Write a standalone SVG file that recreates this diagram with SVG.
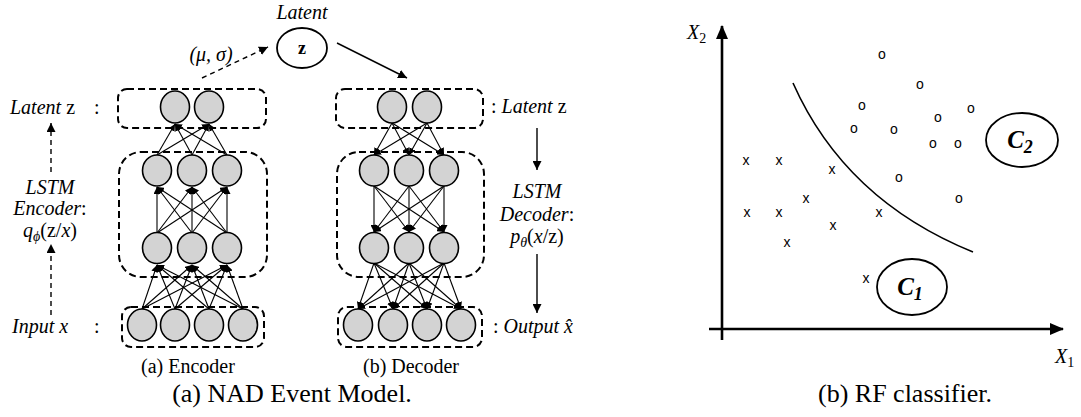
<svg xmlns="http://www.w3.org/2000/svg" width="1081" height="417" viewBox="0 0 1081 417">
<style>
.bg{fill:#fff}
.box{fill:none;stroke:#000;stroke-width:2;stroke-dasharray:7,4}
.nd{fill:#d3d3d3;stroke:#000;stroke-width:1.6}
.ln{stroke:#000;stroke-width:1.1;fill:none;marker-end:url(#ah)}
.dl{stroke:#000;stroke-width:1.4;fill:none;stroke-dasharray:5,4;marker-end:url(#ah2)}
.sl{stroke:#000;stroke-width:1.4;fill:none;marker-end:url(#ah2)}
.ax{stroke:#000;stroke-width:2.6;fill:none}
.m{font-family:"Liberation Serif",serif;font-style:italic;font-size:20px;fill:#000}
.up{font-style:normal}
.cap{font-family:"Liberation Serif",serif;font-size:20px;fill:#000}
.big{font-family:"Liberation Serif",serif;font-size:26px;fill:#000}
.pt{font-family:"Liberation Sans",sans-serif;font-size:14px;fill:#000;text-anchor:middle}
.cl{font-family:"Liberation Serif",serif;font-style:italic;font-weight:bold;font-size:25px;fill:#000}
.el{fill:#fff;stroke:#000;stroke-width:1.8}
</style>
<defs>
<marker id="ah" markerWidth="7" markerHeight="7" refX="7" refY="3.5" orient="auto" markerUnits="userSpaceOnUse"><path d="M0,0 L7,3.5 L0,7 z" fill="#000"/></marker>
<marker id="ah2" markerWidth="9" markerHeight="9" refX="9" refY="4.5" orient="auto" markerUnits="userSpaceOnUse"><path d="M0,0 L9,4.5 L0,9 z" fill="#000"/></marker>
<marker id="ax" markerWidth="14" markerHeight="12" refX="13" refY="6" orient="auto" markerUnits="userSpaceOnUse"><path d="M0,0 L14,6 L0,12 z" fill="#000"/></marker>
</defs>
<rect class="bg" width="1081" height="417"/>

<g id="boxes">
<rect class="box" x="118" y="89" width="148" height="39" rx="9"/>
<rect class="box" x="119" y="152" width="148" height="125" rx="22"/>
<rect class="box" x="122" y="307" width="142" height="40" rx="9"/>
<rect class="box" x="336" y="89" width="147" height="39" rx="9"/>
<rect class="box" x="337" y="152" width="147" height="125" rx="22"/>
<rect class="box" x="338" y="307" width="144" height="40" rx="9"/>
</g>

<g id="connectors">
<line class="ln" x1="142" y1="309" x2="157" y2="265"/><line class="ln" x1="142" y1="309" x2="192" y2="265"/><line class="ln" x1="142" y1="309" x2="227" y2="265"/>
<line class="ln" x1="175" y1="309" x2="157" y2="265"/><line class="ln" x1="175" y1="309" x2="192" y2="265"/><line class="ln" x1="175" y1="309" x2="227" y2="265"/>
<line class="ln" x1="209" y1="309" x2="157" y2="265"/><line class="ln" x1="209" y1="309" x2="192" y2="265"/><line class="ln" x1="209" y1="309" x2="227" y2="265"/>
<line class="ln" x1="243" y1="309" x2="157" y2="265"/><line class="ln" x1="243" y1="309" x2="192" y2="265"/><line class="ln" x1="243" y1="309" x2="227" y2="265"/>
<line class="ln" x1="157" y1="233" x2="157" y2="187"/><line class="ln" x1="157" y1="233" x2="192" y2="187"/><line class="ln" x1="157" y1="233" x2="227" y2="187"/>
<line class="ln" x1="192" y1="233" x2="157" y2="187"/><line class="ln" x1="192" y1="233" x2="192" y2="187"/><line class="ln" x1="192" y1="233" x2="227" y2="187"/>
<line class="ln" x1="227" y1="233" x2="157" y2="187"/><line class="ln" x1="227" y1="233" x2="192" y2="187"/><line class="ln" x1="227" y1="233" x2="227" y2="187"/>
<line class="ln" x1="157" y1="155" x2="175" y2="124"/><line class="ln" x1="157" y1="155" x2="209" y2="124"/>
<line class="ln" x1="192" y1="155" x2="175" y2="124"/><line class="ln" x1="192" y1="155" x2="209" y2="124"/>
<line class="ln" x1="227" y1="155" x2="175" y2="124"/><line class="ln" x1="227" y1="155" x2="209" y2="124"/>
<line class="ln" x1="392" y1="123" x2="374" y2="155"/><line class="ln" x1="392" y1="123" x2="409" y2="155"/><line class="ln" x1="392" y1="123" x2="444" y2="155"/>
<line class="ln" x1="427" y1="123" x2="374" y2="155"/><line class="ln" x1="427" y1="123" x2="409" y2="155"/><line class="ln" x1="427" y1="123" x2="444" y2="155"/>
<line class="ln" x1="374" y1="186" x2="374" y2="232"/><line class="ln" x1="374" y1="186" x2="409" y2="232"/><line class="ln" x1="374" y1="186" x2="444" y2="232"/>
<line class="ln" x1="409" y1="186" x2="374" y2="232"/><line class="ln" x1="409" y1="186" x2="409" y2="232"/><line class="ln" x1="409" y1="186" x2="444" y2="232"/>
<line class="ln" x1="444" y1="186" x2="374" y2="232"/><line class="ln" x1="444" y1="186" x2="409" y2="232"/><line class="ln" x1="444" y1="186" x2="444" y2="232"/>
<line class="ln" x1="374" y1="263" x2="358" y2="309"/><line class="ln" x1="374" y1="263" x2="393" y2="309"/><line class="ln" x1="374" y1="263" x2="427" y2="309"/><line class="ln" x1="374" y1="263" x2="461" y2="309"/>
<line class="ln" x1="409" y1="263" x2="358" y2="309"/><line class="ln" x1="409" y1="263" x2="393" y2="309"/><line class="ln" x1="409" y1="263" x2="427" y2="309"/><line class="ln" x1="409" y1="263" x2="461" y2="309"/>
<line class="ln" x1="444" y1="263" x2="358" y2="309"/><line class="ln" x1="444" y1="263" x2="393" y2="309"/><line class="ln" x1="444" y1="263" x2="427" y2="309"/><line class="ln" x1="444" y1="263" x2="461" y2="309"/>
<line class="dl" x1="202" y1="78" x2="268" y2="47"/>
<line class="sl" x1="337" y1="43" x2="407" y2="78"/>
<line class="dl" x1="51" y1="172" x2="51" y2="123"/>
<line class="dl" x1="51" y1="315" x2="51" y2="244"/>
<line class="sl" x1="537" y1="128" x2="537" y2="170"/>
<line class="sl" x1="537" y1="254" x2="537" y2="313"/>
</g>

<g id="enc-latent"><ellipse class="nd" cx="175" cy="107" rx="14.5" ry="16"/><ellipse class="nd" cx="209" cy="107" rx="14.5" ry="16"/></g>
<g id="enc-hidden-top"><ellipse class="nd" cx="157" cy="170.5" rx="14.5" ry="15.5"/><ellipse class="nd" cx="192" cy="170.5" rx="14.5" ry="15.5"/><ellipse class="nd" cx="227" cy="170.5" rx="14.5" ry="15.5"/></g>
<g id="enc-hidden-bottom"><ellipse class="nd" cx="157" cy="248" rx="14.5" ry="15.5"/><ellipse class="nd" cx="192" cy="248" rx="14.5" ry="15.5"/><ellipse class="nd" cx="227" cy="248" rx="14.5" ry="15.5"/></g>
<g id="enc-input"><ellipse class="nd" cx="142" cy="325" rx="14.5" ry="16"/><ellipse class="nd" cx="175" cy="325" rx="14.5" ry="16"/><ellipse class="nd" cx="209" cy="325" rx="14.5" ry="16"/><ellipse class="nd" cx="243" cy="325" rx="14.5" ry="16"/></g>
<g id="dec-latent"><ellipse class="nd" cx="392" cy="107" rx="14.5" ry="16"/><ellipse class="nd" cx="427" cy="107" rx="14.5" ry="16"/></g>
<g id="dec-hidden-top"><ellipse class="nd" cx="374" cy="170.5" rx="14.5" ry="15.5"/><ellipse class="nd" cx="409" cy="170.5" rx="14.5" ry="15.5"/><ellipse class="nd" cx="444" cy="170.5" rx="14.5" ry="15.5"/></g>
<g id="dec-hidden-bottom"><ellipse class="nd" cx="374" cy="248" rx="14.5" ry="15.5"/><ellipse class="nd" cx="409" cy="248" rx="14.5" ry="15.5"/><ellipse class="nd" cx="444" cy="248" rx="14.5" ry="15.5"/></g>
<g id="dec-output"><ellipse class="nd" cx="358" cy="325" rx="14.5" ry="16"/><ellipse class="nd" cx="393" cy="325" rx="14.5" ry="16"/><ellipse class="nd" cx="427" cy="325" rx="14.5" ry="16"/><ellipse class="nd" cx="461" cy="325" rx="14.5" ry="16"/></g>

<g id="z-node">
<ellipse class="el" cx="302" cy="48" rx="25" ry="20"/>
<text x="302" y="54" text-anchor="middle" font-family="Liberation Serif, serif" font-weight="bold" font-size="18">z</text>
<text x="302" y="19" text-anchor="middle" class="m" font-size="13">Latent</text>
<text x="211" y="61" text-anchor="middle" class="m" font-size="16">(μ, σ)</text>
</g>

<g id="labels">
<text class="m" x="10" y="114">Latent<tspan class="up"> z</tspan></text><text class="m up" x="94" y="114">:</text>
<text class="m" x="50" y="194" text-anchor="middle">LSTM</text>
<text class="m" x="50" y="215" text-anchor="middle">Encoder<tspan class="up">:</tspan></text>
<text class="m" x="50" y="237" text-anchor="middle">q<tspan font-size="14" dy="4">ϕ</tspan><tspan class="up" dy="-4">(z/</tspan>x<tspan class="up">)</tspan></text>
<text class="m" x="12" y="333">Input x</text><text class="m up" x="94" y="333">:</text>
<text class="m" x="491" y="113"><tspan class="up">: </tspan>Latent<tspan class="up"> z</tspan></text>
<text class="m" x="537" y="198" text-anchor="middle">LSTM</text>
<text class="m" x="537" y="221" text-anchor="middle">Decoder<tspan class="up">:</tspan></text>
<text class="m" x="537" y="243" text-anchor="middle">p<tspan font-size="14" dy="4">θ</tspan><tspan class="up" dy="-4">(</tspan>x<tspan class="up">/z)</tspan></text>
<text class="m" x="493" y="333"><tspan class="up">: </tspan>Output x̂</text>
<text class="cap" x="188" y="373" text-anchor="middle">(a) Encoder</text>
<text class="cap" x="411" y="373" text-anchor="middle">(b) Decoder</text>
<text class="big" x="292" y="402" text-anchor="middle">(a) NAD Event Model.</text>
</g>

<g id="rf-plot">
<line class="ax" x1="722" y1="340" x2="722" y2="26" marker-end="url(#ax)"/>
<line class="ax" x1="709" y1="329" x2="1063" y2="329" marker-end="url(#ax)"/>
<text class="m" x="687" y="39" font-size="21">X<tspan font-size="14" dy="4" class="up">2</tspan></text>
<text class="m" x="1055" y="363" font-size="21">X<tspan font-size="14" dy="4" class="up">1</tspan></text>
<path d="M793,83 Q845,200 973,252" fill="none" stroke="#000" stroke-width="1.6"/>
</g>

<g id="points" class="pt">
<text x="882" y="59">o</text><text x="920" y="89">o</text><text x="862" y="110">o</text><text x="971" y="113">o</text>
<text x="938" y="122">o</text><text x="854" y="133">o</text><text x="894" y="134">o</text><text x="933" y="148">o</text>
<text x="958" y="148">o</text><text x="899" y="182">o</text><text x="959" y="203">o</text>
<text x="746" y="165">x</text><text x="779" y="165">x</text><text x="832" y="174">x</text><text x="806" y="203">x</text>
<text x="747" y="217">x</text><text x="779" y="217">x</text><text x="879" y="217">x</text><text x="833" y="230">x</text>
<text x="787" y="247">x</text><text x="866" y="283">x</text>
</g>

<g id="class-c2"><ellipse class="el" cx="1022" cy="140" rx="36" ry="27"/><text class="cl" x="1020" y="148" text-anchor="middle">C<tspan font-size="18" dy="5">2</tspan></text></g>
<g id="class-c1"><ellipse class="el" cx="912" cy="287" rx="35" ry="28"/><text class="cl" x="910" y="295" text-anchor="middle">C<tspan font-size="18" dy="5">1</tspan></text></g>

<text class="big" x="905" y="402" text-anchor="middle">(b) RF classifier.</text>
</svg>
